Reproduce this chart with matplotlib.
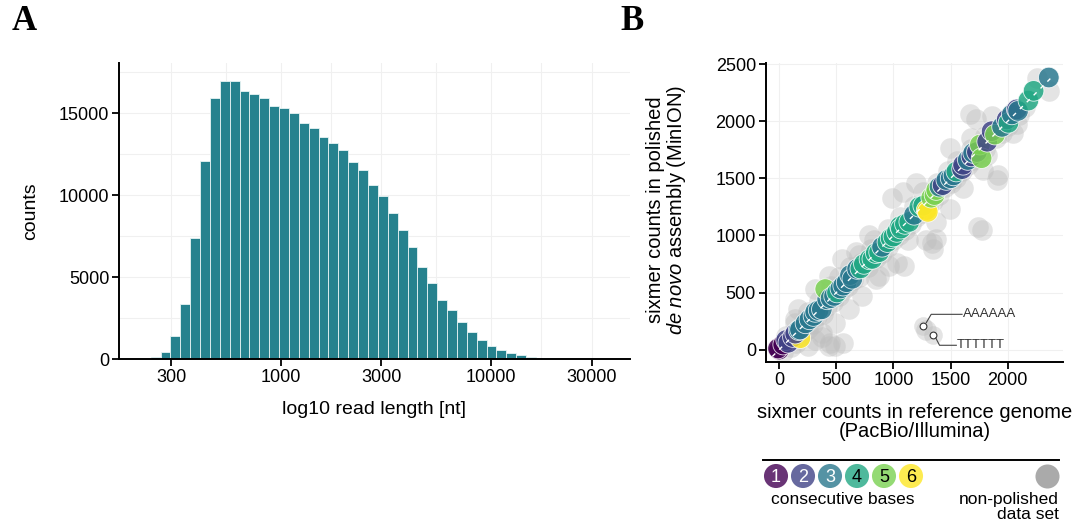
import matplotlib
matplotlib.use("Agg")
import matplotlib.pyplot as plt
import numpy as np

plt.rcParams["font.family"] = ["Liberation Sans", "DejaVu Sans"]
plt.rcParams["mathtext.fontset"] = "custom"
plt.rcParams["mathtext.rm"] = "Liberation Sans"
plt.rcParams["mathtext.it"] = "Liberation Sans:italic"

# ---- panel A: read length histogram (log10 bins) ----
bin_start = 2.3795
bin_width = 0.047
read_counts = [120, 430, 1400, 3370, 7400, 12070, 15900, 16950, 16950, 16360,
               16140, 15930, 15400, 15300, 14980, 14390, 14080, 13540, 13200, 12720,
               12000, 11500, 10600, 9920, 8880, 7890, 6830, 5610, 4650, 3620,
               3000, 2280, 1650, 1140, 810, 570, 370, 220, 140, 80, 40, 20]
len_ticks = [300, 1000, 3000, 10000, 30000]

# ---- panel B: sixmer counts ----
col_ref = [0, -10, 35, 61, 80, 120, 185, 140, 170, 182, 230, 265, 300, 315, 345,
           373, 420, 403, 450, 480, 506, 535, 560, 590, 620, 640, 682, 710, 741,
           790, 815, 845, 874, 900, 947, 975, 1000, 1030, 1057, 1065, 1100, 1138,
           1180, 1226, 1260, 1290, 1300, 1330, 1359, 1374, 1403, 1430, 1462, 1500,
           1525, 1550, 1600, 1609, 1650, 1682, 1697, 1730, 1756, 1771, 1820, 1859,
           1888, 1950, 1991, 2006, 2035, 2079, 2090, 2180, 2226, 2359]
col_pol = [0, 10, 44, 84, 60, 110, 100, 140, 170, 176, 230, 265, 294, 330, 345,
           353, 440, 530, 450, 470, 500, 535, 560, 590, 653, 620, 706, 710, 750,
           790, 794, 845, 853, 900, 941, 975, 990, 1030, 1080, 1059, 1100, 1118,
           1180, 1250, 1260, 1221, 1206, 1330, 1353, 1397, 1426, 1440, 1485, 1500,
           1525, 1559, 1580, 1618, 1660, 1691, 1721, 1730, 1794, 1676, 1820, 1912,
           1882, 1950, 2015, 1985, 2059, 2103, 2090, 2180, 2265, 2382]
col_bases = [1, 1, 1, 2, 2, 2, 6, 2, 3, 3, 3, 3, 3, 3, 3,
             3, 3, 5, 3, 3, 4, 3, 3, 3, 3, 3, 3, 4, 4,
             4, 4, 4, 4, 3, 4, 4, 4, 4, 4, 4, 4, 4,
             3, 4, 4, 6, 6, 5, 5, 5, 3, 2, 3, 3,
             3, 4, 2, 2, 3, 2, 3, 2, 5, 5, 2, 2,
             5, 3, 2, 4, 3, 2, 3, 4, 4, 3]

grey_ref = [30, 100, 150, 60, 200, 250, 140, 300, 330, 250, 380, 420, 350, 470, 520,
            450, 560, 600, 520, 650, 700, 620, 720, 780, 700, 800, 850, 900, 830, 950,
            1000, 950, 1050, 1100, 1060, 1150, 1200, 1180, 1250, 1300, 1260, 1350, 1400,
            1380, 1450, 1500, 1480, 1550, 1600, 1560, 1650, 1700, 1680, 1750, 1800, 1800,
            1900, 1950, 2000, 2050, 2100, 2150,
            1726, 1668, 1859, 1918, 1785, 1771, 1344, 1374, 1285, 1094, 874, 491, 432,
            315, 256, 1285, 2256, 2359, 2079, 2050, 1682, 1491, 991, 1079, 1197, 785,
            668, 550, 432, 315, 168, 138, 844, 962, 726, 609, 491, 373, 1374, 1491,
            1609, 1815, 444, 561, 372, 1028, 1127, 1334, 1740, 1903]
grey_pol = [-20, 20, 60, 120, 130, 180, 230, 220, 290, 330, 310, 380, 430, 420, 470,
            560, 520, 560, 640, 610, 640, 720, 760, 720, 830, 880, 800, 850, 960, 900,
            960, 1060, 1000, 1050, 1160, 1100, 1160, 1260, 1200, 1260, 1380, 1300, 1350,
            1460, 1420, 1460, 1560, 1500, 1560, 1650, 1620, 1660, 1760, 1720, 1760, 1870,
            1850, 1900, 1960, 2080, 2050, 2120,
            2015, 2059, 2044, 1529, 1574, 1044, 882, 971, 956, 735, 647, 29, 29,
            88, 29, 176, 2382, 2265, 1971, 1897, 1853, 1765, 1324, 1382, 1456, 1000,
            853, 794, 647, 529, 353, 265, 618, 735, 471, 353, 235, 147, 1118, 1235,
            1412, 1706, 55, 58, 113, 755, 959, 930, 1075, 1484]

# the two homopolymer sixmers that are labelled
homo_ref = [1262, 1350]
homo_pol = [206, 132]
homo_names = ["AAAAAA", "TTTTTT"]

base_labels = ["1", "2", "3", "4", "5", "6"]
base_colors = ["#440154", "#414487", "#2A788E", "#22A884", "#7AD151", "#FDE725"]
ref_ticks = [0, 500, 1000, 1500, 2000]
pol_ticks = [0, 500, 1000, 1500, 2000, 2500]

fig = plt.figure(figsize=(10.83, 5.29), dpi=100)
W, H = 1083, 529


def px_axes(x0, y0, x1, y1):
    # rectangle given in pixel coords from top-left
    return fig.add_axes([x0 / W, 1 - y1 / H, (x1 - x0) / W, (y1 - y0) / H])


def style_axes(ax):
    for side in ["top", "right"]:
        ax.spines[side].set_visible(False)
    for side in ["left", "bottom"]:
        ax.spines[side].set_linewidth(1.4)
    ax.tick_params(width=1.3, length=5, labelsize=13, colors="black", pad=2)
    ax.set_axisbelow(True)


# ---------------- panel A ----------------
axA = px_axes(119, 63, 630, 359)
edges = bin_start + bin_width * np.arange(len(read_counts))
axA.bar(edges, read_counts, width=bin_width, align="edge",
        color="#26828E", edgecolor="#E8F4F4", linewidth=0.6)
axA.set_xlim(2.229, 4.66)
axA.set_ylim(0, 18050)
major = np.log10(len_ticks)
minor = (major[:-1] + major[1:]) / 2
for v in np.concatenate([major, minor]):
    axA.axvline(v, color="#F0F0F0", lw=0.8, zorder=0)
for v in np.arange(0, 18000, 2500):
    axA.axhline(v, color="#F0F0F0", lw=0.8, zorder=0)
axA.set_xticks(major)
axA.set_xticklabels([str(t) for t in len_ticks])
axA.set_yticks([0, 5000, 10000, 15000])
style_axes(axA)
axA.set_xlabel("log10 read length [nt]", fontsize=14, labelpad=11)
axA.set_ylabel("counts", fontsize=14, labelpad=14)

# ---------------- panel B ----------------
axB = px_axes(765.7, 62.9, 1063.2, 362.3)
axB.set_xlim(-118, 2485)
axB.set_ylim(-111, 2510)
for v in ref_ticks:
    axB.axvline(v, color="#F0F0F0", lw=0.8, zorder=0)
for v in pol_ticks:
    axB.axhline(v, color="#F0F0F0", lw=0.8, zorder=0)
axB.scatter(grey_ref, grey_pol, s=220, color="#BDBDBD", alpha=0.4,
            linewidths=0, zorder=2)
cols = [base_colors[b - 1] for b in col_bases]
axB.scatter(col_ref, col_pol, s=220, c=cols, alpha=0.85,
            edgecolors=(1, 1, 1, 0.3), linewidths=0.6, zorder=3)
axB.plot([-60, 2400], [-60, 2400], color="white", lw=1.0,
         dashes=(3, 4), zorder=4)

# homopolymer labels
axB.scatter(homo_ref, homo_pol, s=180, color="#BDBDBD", alpha=0.4,
            linewidths=0, zorder=2)
axB.scatter(homo_ref, homo_pol, s=24, facecolor="white", edgecolor="#333333",
            linewidths=0.8, zorder=5)
axB.plot([homo_ref[0] + 25, 1330, 1600], [homo_pol[0] + 30, 309, 309],
         color="#444444", lw=0.8, zorder=5)
axB.text(1605, 309, homo_names[0], fontsize=9.5, color="#333333",
         va="center", ha="left", zorder=5)
axB.plot([homo_ref[1] + 20, 1403, 1550], [homo_pol[1] - 30, 38, 38],
         color="#444444", lw=0.8, zorder=5)
axB.text(1555, 38, homo_names[1], fontsize=9.5, color="#333333",
         va="center", ha="left", zorder=5)

axB.set_xticks(ref_ticks)
axB.set_yticks(pol_ticks)
style_axes(axB)
axB.set_xlabel("sixmer counts in reference genome\n(PacBio/Illumina)",
               fontsize=14.5, labelpad=10, linespacing=1.0)
fig.text(667 / W, 1 - 210 / H,
         "sixmer counts in polished\n$\\it{de\\ novo}$ assembly (MinION)",
         rotation=90, fontsize=14.5, ha="center", va="center",
         multialignment="center", linespacing=1.0)

# ---------------- legend under panel B ----------------
axL = px_axes(755, 448, 1075, 529)
axL.set_xlim(755, 1075)
axL.set_ylim(529, 448)
axL.axis("off")
axL.plot([763, 1059], [460, 460], color="black", lw=1.4)
leg_x = 776 + 27 * np.arange(len(base_labels))
axL.scatter(leg_x, [476] * len(base_labels), s=300, c=base_colors,
            alpha=0.8, linewidths=0)
for i, lab in enumerate(base_labels):
    axL.text(leg_x[i], 477, lab, ha="center", va="center", fontsize=13,
             color="white" if i < 3 else "black")
axL.scatter([1047], [476], s=300, color="#AAAAAA", linewidths=0)
axL.text(843, 499, "consecutive bases", ha="center", va="center", fontsize=12.5)
axL.text(1059, 492, "non-polished\ndata set", ha="right", va="top",
         fontsize=12.5, linespacing=1.0)

# panel letters
fig.text(12 / W, 1 - 22 / H, "A", fontsize=25, fontweight="bold",
         family="Liberation Serif", va="center", ha="left")
fig.text(620 / W, 1 - 22 / H, "B", fontsize=25, fontweight="bold",
         family="Liberation Serif", va="center", ha="left")

fig.savefig("out.png", dpi=100)
